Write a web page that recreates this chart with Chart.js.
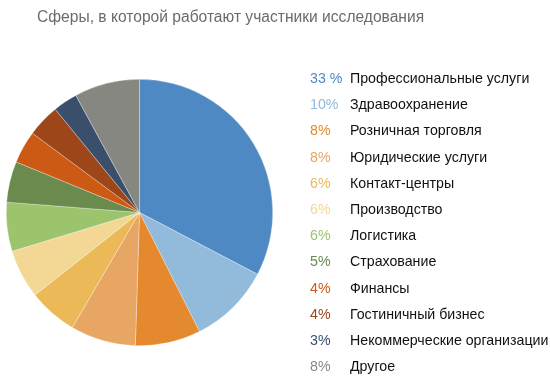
<!DOCTYPE html>
<html>
<head>
<meta charset="utf-8">
<script src="https://cdn.jsdelivr.net/npm/chart.js@4"></script>
<style>
  html, body { margin: 0; padding: 0; background: #fff; }
  #wrap { position: relative; width: 550px; height: 378px; font-family: "Liberation Sans", Arial, sans-serif; }
  #title { position: absolute; left: 37px; top: 8px; font-size: 15.6px; color: #6b6b6b; white-space: nowrap; }
  #legend { position: absolute; left: 310px; top: 69px; font-size: 14.2px; }
  .row { height: 26.2px; line-height: 18px; white-space: nowrap; }
  .pct { display: inline-block; width: 40px; }
  .lbl { color: #111; }
</style>
</head>
<body>
<div id="wrap">
  <div id="title"></div>
  <canvas id="pie" width="550" height="378"></canvas>
  <div id="legend"></div>
</div>
<script>
const chartTitle = 'Сферы, в которой работают участники исследования';
const labels = [
  'Профессиональные услуги', 'Здравоохранение', 'Розничная торговля', 'Юридические услуги',
  'Контакт-центры', 'Производство', 'Логистика', 'Страхование', 'Финансы',
  'Гостиничный бизнес', 'Некоммерческие организации', 'Другое'
];
const values = [33, 10, 8, 8, 6, 6, 6, 5, 4, 4, 3, 8];
const pctLabels = ['33 %', '10%', '8%', '8%', '6%', '6%', '6%', '5%', '4%', '4%', '3%', '8%'];
const colors = [
  '#4e89c4', '#92badb', '#e5892f', '#e8a664', '#ebb958', '#f2d894',
  '#9cc46d', '#6a8a4e', '#cc5a14', '#9c4619', '#3a4f6b', '#878782'
];

document.getElementById('title').textContent = chartTitle;

// legend: coloured percentage + black label
const legend = document.getElementById('legend');
labels.forEach((l, i) => {
  const row = document.createElement('div');
  row.className = 'row';
  row.innerHTML = '<span class="pct" style="color:' + colors[i] + '">' + pctLabels[i] + '</span><span class="lbl">' + l + '</span>';
  legend.appendChild(row);
});

new Chart(document.getElementById('pie'), {
  type: 'pie',
  data: {
    labels: labels,
    datasets: [{
      data: values,
      backgroundColor: colors,
      borderColor: 'rgba(255,255,255,0.6)',
      borderWidth: 0.5
    }]
  },
  options: {
    responsive: false,
    animation: false,
    layout: { padding: { left: 6, right: 277, top: 79, bottom: 32 } },
    plugins: {
      legend: { display: false },
      tooltip: { enabled: false }
    }
  }
});
</script>
</body>
</html>
